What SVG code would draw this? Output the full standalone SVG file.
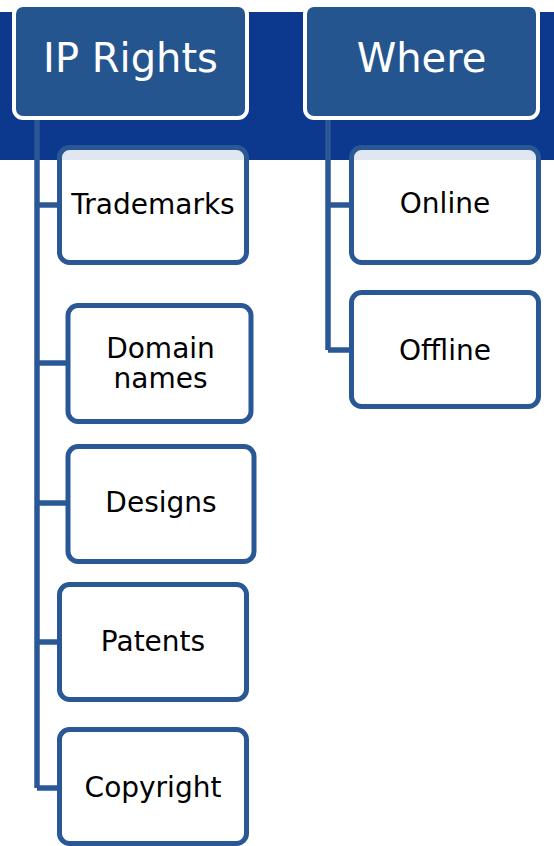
<svg xmlns="http://www.w3.org/2000/svg" width="554" height="846" viewBox="0 0 554 846">
<style>
.band{fill:#0C398D}
.hdr rect{fill:#24558F;stroke:#FFFFFF;stroke-width:4}
.hdr text{fill:#FFFFFF;font-family:"DejaVu Sans",Verdana,sans-serif;font-size:40px;text-anchor:middle}
.leaf rect{fill:#FFFFFF;fill-opacity:0.88;stroke:#2A5896;stroke-width:5}
.leaf text{fill:#000000;font-family:"DejaVu Sans",Verdana,sans-serif;font-size:28px;text-anchor:middle}
.conn{fill:none;stroke:#2A5896;stroke-width:5.5}
</style>
<rect class="band" x="0" y="12" width="554" height="148"/>
<g id="connectors" class="conn">
<path d="M37 117 V788"/>
<path d="M37 205 H60"/>
<path d="M37 363 H68"/>
<path d="M37 503 H68"/>
<path d="M37 642 H60"/>
<path d="M37 788 H60"/>
<path d="M328 117 V350"/>
<path d="M328 205 H351"/>
<path d="M328 350 H351"/>
</g>
<g id="ip-rights" class="hdr"><rect x="14" y="5" width="233" height="113" rx="9"/><text x="130.5" y="72">IP Rights</text></g>
<g id="where" class="hdr"><rect x="305" y="5" width="233" height="113" rx="9"/><text x="421.5" y="72">Where</text></g>
<g id="trademarks" class="leaf"><rect x="59.5" y="147.5" width="187" height="115" rx="10"/><text x="153" y="214">Trademarks</text></g>
<g id="domain-names" class="leaf"><rect x="68" y="305.5" width="183" height="116" rx="10"/><text x="160.5" y="358">Domain</text><text x="160.5" y="388">names</text></g>
<g id="designs" class="leaf"><rect x="68" y="446.5" width="186" height="115" rx="10"/><text x="161" y="512">Designs</text></g>
<g id="patents" class="leaf"><rect x="59.5" y="584.5" width="187" height="115" rx="10"/><text x="153" y="651">Patents</text></g>
<g id="copyright" class="leaf"><rect x="59.5" y="729.5" width="187" height="114" rx="10"/><text x="153" y="797">Copyright</text></g>
<g id="online" class="leaf"><rect x="351.5" y="147.5" width="187" height="115" rx="10"/><text x="445" y="213">Online</text></g>
<g id="offline" class="leaf"><rect x="351.5" y="292.5" width="187" height="114" rx="10"/><text x="445" y="360">Offline</text></g>
</svg>
